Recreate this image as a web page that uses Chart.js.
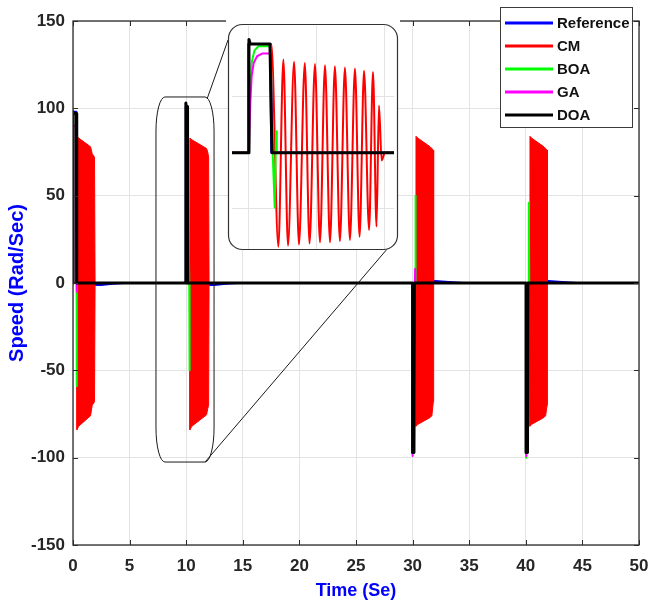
<!DOCTYPE html>
<html>
<head>
<meta charset="utf-8">
<script src="https://cdn.jsdelivr.net/npm/chart.js@4.4.1/dist/chart.umd.min.js"></script>
<style>
  html, body { margin: 0; padding: 0; background: #fff; }
  #wrap { position: relative; width: 649px; height: 605px; }
  #main { position: absolute; left: 0; top: 0; }
  #inset { position: absolute; left: 226px; top: 18px; }
</style>
</head>
<body>
<div id="wrap">
  <canvas id="main" width="649" height="605"></canvas>
  <canvas id="inset" width="174" height="236"></canvas>
</div>
<script>
// speed.js — Drehzahlverlauf: Reference / CM / BOA / GA / DOA mit Zoom-Fenster

// ─── Daten: Hauptdiagramm ───────────────────────────────────────────────────

const xTicks = [0, 5, 10, 15, 20, 25, 30, 35, 40, 45, 50];
const yTicks = [-150, -100, -50, 0, 50, 100, 150];

const refT = [0, 0, 0.3, 0.3, 0.45, 2.5, 3.5, 4.5, 9.97, 9.97, 10.08, 10.08, 10.45, 12.5, 13.5, 14.5, 30, 30, 30.12, 30.12, 30.45, 32, 33.5, 34.5, 40.02, 40.02, 40.15, 40.15, 40.5, 42, 43.5, 44.5, 50];
const refV = [0, 98, 98, 0, -1.2, -1.2, -0.5, 0, 0, 101, 101, 0, -1.2, -1.2, -0.5, 0, 0, -97, -97, 0, 1.2, 1.2, 0.5, 0, 0, -97, -97, 0, 1.2, 1.2, 0.5, 0, 0];

// CM schwingt sehr schnell -> Hüllkurve oben / unten
const cmT  = [0, 0.34, 0.35, 0.5, 1.55, 1.7, 1.9, 1.95, 10.32, 10.33, 10.5, 11.8, 11.9, 11.98, 12.02, 30.29, 30.3, 30.45, 31.55, 31.7, 31.83, 31.86, 40.36, 40.37, 40.5, 41.6, 41.75, 41.88, 41.91, 50];
const cmHi = [0, 0, 84, 83, 78, 74, 72, 0, 0, 83, 82, 77, 75, 72, 0, 0, 84, 83, 78, 77, 76, 0, 0, 84, 83, 78, 77, 76, 0, 0];
const cmLo = [0, 0, -84, -82, -76, -70, -68, 0, 0, -84, -82, -75.5, -72, -70, 0, 0, -82, -81, -77, -76, -68, 0, 0, -82, -81, -77, -76, -70, 0, 0];

const boaT = [0, 0, 0.02, 0.3, 0.32, 0.33, 0.35, 9.98, 9.99, 10.1, 10.27, 10.29, 10.31, 30.0, 30.0, 30.12, 30.22, 30.25, 30.28, 40.02, 40.02, 40.05, 40.15, 40.24, 40.27, 40.3, 50];
const boaV = [0, 95, 97, 97, 0, -59, 0, 0, 98, 98, 0, -50, 0, 0, -97, -97, 0, 50, 0, 0, -100, -97, -97, 0, 46, 0, 0];

const gaT = [0, 0, 0.05, 0.3, 0.32, 0.335, 0.35, 9.98, 9.99, 10.04, 10.1, 10.25, 30.0, 30.0, 30.05, 30.12, 30.2, 30.22, 30.24, 40.02, 40.02, 40.07, 40.15, 40.22, 50];
const gaV = [0, 85, 90, 90, 0, -5, 0, 0, 86, 90, 90, 0, 0, -99, -92, -92, 0, 8, 0, 0, -99, -92, -92, 0, 0];

const doaT = [0, 0, 0.02, 0.3, 0.33, 9.97, 9.97, 10.0, 10.08, 10.12, 30.0, 30.0, 30.12, 30.17, 40.02, 40.02, 40.15, 40.2, 50];
const doaV = [0, 98, 97, 97, 0, 0, 103, 101, 101, 0, 0, -97, -97, 0, 0, -97, -97, 0, 0];

// ─── Daten: Zoom-Fenster (Impuls bei t = 10 s) ───────────────────────────────

const insetXGrid = [10, 10.5, 11];
const insetYGrid = [-50, 50];

const inRefT = [9.875, 9.995, 9.995, 10.155, 10.165, 11.07];
const inRefV = [0, 0, 97, 97, 0, 0];

const inCmT = [9.875, 10.0, 10.0, 10.165, 10.217, 10.254, 10.288, 10.333, 10.369, 10.412, 10.447, 10.487, 10.524, 10.561, 10.598, 10.634, 10.671, 10.708, 10.745, 10.782, 10.816, 10.849, 10.886, 10.915, 10.941, 10.959, 10.979, 11.003, 11.07];
const inCmV = [0, 0, 97, 97, -84, 83, -83, 81, -82, 80, -81, 79, -80, 78, -80, 77, -79, 76, -78, 75, -75, 73, -69, 72, -66, 42, -7, 0, 0];

const inBoaT = [9.875, 10.0, 10.01, 10.02, 10.04, 10.07, 10.16, 10.175, 10.19, 10.197, 10.2, 10.205, 11.07];
const inBoaV = [0, 0, 55, 80, 91, 95, 95, 0, -49, 0, 19, 0, 0];

const inGaT = [9.875, 10.0, 10.01, 10.02, 10.035, 10.06, 10.1, 10.16, 10.175, 11.07];
const inGaV = [0, 0, 45, 68, 80, 86, 88.5, 88.5, 0, 0];

const inDoaT = [9.875, 10.0, 10.0, 10.01, 10.155, 10.17, 11.07];
const inDoaV = [0, 0, 101, 97, 97, 0, 0];

// ─── Utility ────────────────────────────────────────────────────────────────

const FONT = "'Liberation Sans Narrow', 'Arial Narrow', 'Liberation Sans', Arial, sans-serif";
const FONT_WIDE = "'Liberation Sans', Arial, sans-serif";

function pts(t, v) {
  return t.map((x, i) => ({ x, y: v[i] }));
}

function series(label, t, v, color, width, order, extra = {}) {
  return {
    label, data: pts(t, v),
    borderColor: color, backgroundColor: color,
    borderWidth: width, pointRadius: 0, tension: 0,
    borderJoinStyle: 'round', fill: false, order,
    ...extra,
  };
}

// ─── Plugins ────────────────────────────────────────────────────────────────

// Achsenrahmen + Ticks nach innen (MATLAB-Stil)
const axesBox = {
  id: 'axesBox',
  afterDatasetsDraw(chart) {
    const { ctx, chartArea: a, scales: { x, y } } = chart;
    ctx.save();
    ctx.strokeStyle = '#2b2b2b';
    ctx.lineWidth = 1;
    ctx.beginPath();
    xTicks.forEach(v => {
      const px = Math.round(x.getPixelForValue(v)) + 0.5;
      ctx.moveTo(px, a.bottom); ctx.lineTo(px, a.bottom - 5);
      ctx.moveTo(px, a.top); ctx.lineTo(px, a.top + 5);
    });
    yTicks.forEach(v => {
      const py = Math.round(y.getPixelForValue(v)) + 0.5;
      ctx.moveTo(a.left, py); ctx.lineTo(a.left + 5, py);
      ctx.moveTo(a.right, py); ctx.lineTo(a.right - 5, py);
    });
    ctx.stroke();
    ctx.lineWidth = 1.3;
    ctx.strokeRect(a.left, a.top, a.right - a.left, a.bottom - a.top);
    ctx.restore();
  }
};

// Markierung um den Impuls bei 10 s + Linien zum Zoom-Fenster
const zoomMarks = {
  id: 'zoomMarks',
  afterDraw(chart) {
    const { ctx, scales: { x, y } } = chart;
    const x0 = x.getPixelForValue(7.33), x1 = x.getPixelForValue(12.46);
    const y0 = y.getPixelForValue(106.5), y1 = y.getPixelForValue(-102.5);
    const rx = 9, ry = 34;
    ctx.save();
    ctx.strokeStyle = '#1a1a1a';
    ctx.lineWidth = 1;
    ctx.beginPath();
    ctx.moveTo(x0 + rx, y0);
    ctx.lineTo(x1 - rx, y0);
    ctx.ellipse(x1 - rx, y0 + ry, rx, ry, 0, -Math.PI / 2, 0);
    ctx.lineTo(x1, y1 - ry);
    ctx.ellipse(x1 - rx, y1 - ry, rx, ry, 0, 0, Math.PI / 2);
    ctx.lineTo(x0 + rx, y1);
    ctx.ellipse(x0 + rx, y1 - ry, rx, ry, 0, Math.PI / 2, Math.PI);
    ctx.lineTo(x0, y0 + ry);
    ctx.ellipse(x0 + rx, y0 + ry, rx, ry, 0, Math.PI, Math.PI * 1.5);
    ctx.closePath();
    ctx.stroke();

    ctx.beginPath();
    ctx.moveTo(x1 - 7, y0 + 2); ctx.lineTo(228, 40);
    ctx.moveTo(x1 - 9, y1);     ctx.lineTo(388, 248);
    ctx.stroke();
    ctx.restore();
  }
};

// Legende oben rechts (überlappt den Rahmen)
const legendBox = {
  id: 'legendBox',
  afterDraw(chart) {
    const ctx = chart.ctx;
    const items = chart.data.datasets.filter(d => !d.noLegend);
    ctx.save();
    ctx.fillStyle = '#fff';
    ctx.fillRect(500, 7, 132, 120);
    ctx.strokeStyle = '#3a3a3a';
    ctx.lineWidth = 1;
    ctx.strokeRect(500.5, 7.5, 132, 120);
    ctx.font = `bold 15px ${FONT}`;
    ctx.textBaseline = 'middle';
    items.forEach((d, i) => {
      const yy = 23 + i * 23;
      ctx.strokeStyle = d.borderColor;
      ctx.lineWidth = 3;
      ctx.beginPath(); ctx.moveTo(505, yy); ctx.lineTo(553, yy); ctx.stroke();
      ctx.fillStyle = '#111';
      ctx.fillText(d.label, 557, yy + 1);
    });
    ctx.restore();
  }
};

// Zoom-Fenster: weißer Hintergrund + abgerundeter Rahmen
const insetFrame = {
  id: 'insetFrame',
  beforeDraw(chart) {
    const ctx = chart.ctx;
    ctx.save();
    ctx.fillStyle = '#fff';
    ctx.beginPath();
    ctx.roundRect(2, 6, 170, 226, 14);
    ctx.rect(0, 0, 174, 12);
    ctx.fill();
    ctx.restore();
  },
  afterDraw(chart) {
    const ctx = chart.ctx;
    ctx.save();
    ctx.strokeStyle = '#333';
    ctx.lineWidth = 1.2;
    ctx.beginPath();
    ctx.roundRect(2.5, 6.5, 169, 225, 14);
    ctx.stroke();
    ctx.restore();
  }
};

// ─── Hauptdiagramm ──────────────────────────────────────────────────────────

const tickFont = { family: FONT, size: 17, weight: 'bold' };

new Chart(document.getElementById('main').getContext('2d'), {
  type: 'line',
  data: {
    datasets: [
      series('Reference', refT, refV, '#0000ff', 2, 6),
      series('CM', cmT, cmHi, '#ff0000', 1, 4),
      series('CM', cmT, cmLo, '#ff0000', 1, 5, { fill: '-1', noLegend: true }),
      series('BOA', boaT, boaV, '#00ff00', 2, 3),
      series('GA', gaT, gaV, '#ff00ff', 2, 2),
      series('DOA', doaT, doaV, '#000000', 3, 1),
    ],
  },
  options: {
    responsive: false,
    animation: false,
    layout: { padding: { top: 21, right: 10, left: 0, bottom: 0 } },
    plugins: { legend: { display: false }, tooltip: { enabled: false } },
    scales: {
      x: {
        type: 'linear', min: 0, max: 50,
        afterBuildTicks: s => { s.ticks = xTicks.map(v => ({ value: v })); },
        ticks: { color: '#262626', padding: 11, maxRotation: 0, autoSkip: false, font: tickFont },
        grid: { color: '#e3e3e3', drawTicks: false },
        border: { display: false },
        title: {
          display: true, text: 'Time (Se)', color: '#0000ff',
          font: { family: FONT, size: 18, weight: 'bold' },
          padding: { top: 0, bottom: 3 },
        },
        afterFit: s => { s.height = 60; s.paddingLeft = 0; s.paddingRight = 0; },
      },
      y: {
        min: -150, max: 150,
        afterBuildTicks: s => { s.ticks = yTicks.map(v => ({ value: v })); },
        ticks: { color: '#262626', padding: 8, font: tickFont },
        grid: { color: '#e3e3e3', drawTicks: false },
        border: { display: false },
        title: {
          display: true, text: 'Speed (Rad/Sec)', color: '#0000ff',
          font: { family: FONT_WIDE, size: 20, weight: 'bold' },
          padding: { top: 5.5, bottom: 0 },
        },
        afterFit: s => { s.width = 73; s.paddingTop = 0; s.paddingBottom = 0; },
      },
    },
  },
  plugins: [axesBox, zoomMarks, legendBox],
});

// ─── Zoom-Fenster ───────────────────────────────────────────────────────────

new Chart(document.getElementById('inset').getContext('2d'), {
  type: 'line',
  data: {
    datasets: [
      series('Reference', inRefT, inRefV, '#0000ff', 2, 5),
      series('CM', inCmT, inCmV, '#ff0000', 2, 4, { cubicInterpolationMode: 'monotone' }),
      series('BOA', inBoaT, inBoaV, '#00ff00', 2, 3),
      series('GA', inGaT, inGaV, '#ff00ff', 2, 2),
      series('DOA', inDoaT, inDoaV, '#000000', 3, 1),
    ],
  },
  options: {
    responsive: false,
    animation: false,
    layout: { padding: { left: 6, right: 6, top: 8, bottom: 5 } },
    plugins: { legend: { display: false }, tooltip: { enabled: false } },
    scales: {
      x: {
        type: 'linear', min: 9.875, max: 11.07,
        afterBuildTicks: s => { s.ticks = insetXGrid.map(v => ({ value: v })); },
        ticks: { display: false },
        grid: { color: '#e3e3e3', drawTicks: false },
        border: { display: false },
        afterFit: s => { s.height = 0; },
      },
      y: {
        min: -86, max: 113,
        afterBuildTicks: s => { s.ticks = insetYGrid.map(v => ({ value: v })); },
        ticks: { display: false },
        grid: { color: '#e3e3e3', drawTicks: false },
        border: { display: false },
        afterFit: s => { s.width = 0; },
      },
    },
  },
  plugins: [insetFrame],
});
</script>
</body>
</html>
